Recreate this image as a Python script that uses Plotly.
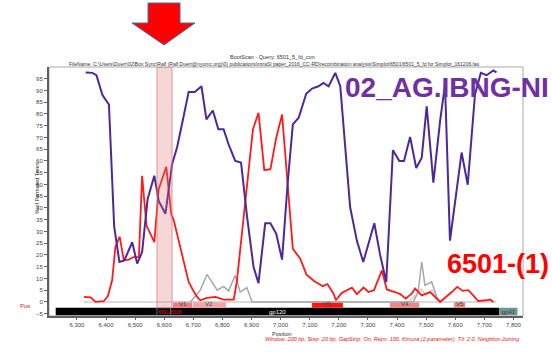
import plotly.graph_objects as go

# ---------------- data ----------------
PURPLE_POS = [6330, 6353, 6367, 6387, 6398, 6410, 6428, 6446, 6463, 6473, 6490, 6507, 6524,
              6543, 6566, 6581, 6604, 6627, 6644, 6661, 6684, 6705, 6728, 6745, 6767, 6786,
              6804, 6821, 6844, 6864, 6885, 6907, 6924, 6947, 6965, 6985, 7005, 7024, 7042,
              7062, 7088, 7108, 7130, 7147, 7165, 7188, 7205, 7239, 7262, 7284, 7302, 7322,
              7342, 7363, 7386, 7408, 7424, 7445, 7466, 7485, 7502, 7525, 7548, 7565, 7582,
              7622, 7643, 7668, 7688, 7708, 7731, 7742]
PURPLE_VAL = [97.7, 97.5, 96.5, 88.3, 86.2, 84.0, 32.0, 17.0, 17.7, 20.5, 25.4, 16.3, 21.2,
              43.8, 53.7, 43.0, 37.5, 58.6, 65.7, 75.6, 89.4, 89.4, 91.8, 77.7, 81.5, 73.5,
              73.5, 67.1, 60.0, 59.3, 36.0, 14.8, 8.0, 33.5, 33.5, 29.0, 18.0, 50.2, 75.6,
              78.4, 88.6, 90.8, 91.8, 93.2, 91.8, 97.5, 91.8, 40.3, 26.1, 17.0, 24.7, 33.5,
              20.0, 8.5, 64.6, 60.0, 60.0, 70.2, 57.0, 61.4, 83.3, 50.8, 77.0, 92.5, 26.1,
              63.6, 49.9, 88.3, 97.5, 96.5, 98.5, 97.7]

RED_POS = [6324, 6347, 6364, 6392, 6406, 6421, 6432, 6447, 6461, 6478, 6495, 6513, 6524,
           6539, 6566, 6581, 6607, 6624, 6633, 6656, 6684, 6701, 6713, 6724, 6747, 6776,
           6804, 6839, 6850, 6905, 6924, 6944, 6965, 6985, 7005, 7042, 7067, 7089, 7116,
           7145, 7161, 7182, 7190, 7210, 7245, 7262, 7285, 7302, 7321, 7348, 7365, 7393,
           7411, 7430, 7451, 7462, 7485, 7514, 7531, 7548, 7588, 7607, 7626, 7645, 7662,
           7679, 7708, 7720, 7731]
RED_VAL = [2.1, 1.9, 0.0, 0.3, 2.4, 9.2, 23.3, 27.8, 17.7, 18.0, 19.1, 19.1, 53.7,
           32.5, 25.4, 48.0, 57.5, 37.5, 34.6, 23.3, 8.5, 4.5, 2.1, 0.7, 1.7, 2.1,
           1.0, 1.0, 9.2, 73.5, 80.5, 56.1, 56.5, 69.9, 79.8, 22.6, 18.5, 11.6, 8.8,
           6.7, 7.6, 3.5, 0.7, 3.8, 6.1, 3.3, 6.1, 4.2, 5.0, 13.4, 5.3, 4.2,
           3.3, 1.4, 3.6, 5.7, 2.8, 4.2, 2.1, 0.0, 4.2, 6.4, 4.7, 5.0, 2.8,
           0.4, 0.7, 1.0, 0.0]

GRAY_POS = [6690, 6724, 6747, 6782, 6804, 6821, 6844, 6861, 6884, 6902, 7456, 7472,
            7485, 7496, 7519, 7537, 7548]
GRAY_VAL = [0.0, 5.0, 11.7, 5.0, 6.6, 4.7, 11.3, 4.2, 6.1, 0.0, 0.0, 4.0,
            17.0, 7.0, 8.5, 2.0, 0.0]

LIGHTGRAY_POS = [7440, 7466, 7482, 7500, 7520, 7540, 7560]
LIGHTGRAY_VAL = [0.0, 3.0, 5.5, 3.0, 5.0, 1.0, 0.0]

BASE_POS = [6324, 7742]
BASE_VAL = [0.0, 0.0]

REGION_NAMES = ["V1", "V2", "V3", "V4", "V5"]
REGION_START = [6630, 6699, 7108, 7376, 7596]
REGION_END = [6696, 6812, 7214, 7476, 7634]

GENE_NAMES = ["gp120", "gp41"]
GENE_START = [6227, 7754]
GENE_END = [7752, 7814]

BREAK_START = 6575
BREAK_END = 6627
BREAK_LABEL = "6591/6628"

X_TICKS = [6300, 6400, 6500, 6600, 6700, 6800, 6900, 7000, 7100, 7200, 7300, 7400, 7500, 7600, 7700, 7800]
Y_TICKS = [-5, 0, 5, 10, 15, 20, 25, 30, 35, 40, 45, 50, 55, 60, 65, 70, 75, 80, 85, 90, 95]

TITLE = "BootScan - Query: 6501_5_fd_con"
FILENAME = ("FileName: C:\\Users\\Duerr\\02\\Box Sync\\Ralf (Ralf.Duerr@nyumc.org)\\0) publications\\intraSI "
            "paper_2016_CC-RD\\recombination analysis\\Simplot\\6501\\6501_5_fd for Simplot_161206.fas")
FOOTER = ("Window: 200 bp, Step: 20 bp, GapStrip: On, Reps: 100, Kimura (2-parameter), "
          "T/t: 2.0, Neighbor-Joining")
LABEL_TOP = "02_AG.IBNG-NI"
LABEL_BOTTOM = "6501-(1)"

# ---------------- styling ----------------
FONT = "Liberation Sans, Arial, sans-serif"
PURPLE = "#4E2898"
RED = "#FF1A1A"
REGION_COLORS = ["#F07C7C", "#F4A2A2", "#FF1414", "#F08585", "#F08585"]

fig = go.Figure()
fig.add_trace(go.Scatter(x=BASE_POS, y=BASE_VAL, mode="lines",
                         line=dict(color="#CFCFCF", width=1.5), hoverinfo="skip"))
fig.add_trace(go.Scatter(x=LIGHTGRAY_POS, y=LIGHTGRAY_VAL, mode="lines",
                         line=dict(color="#D2D2D2", width=1.5), hoverinfo="skip"))
fig.add_trace(go.Scatter(x=GRAY_POS, y=GRAY_VAL, mode="lines",
                         line=dict(color="#A8A8A8", width=1.5), hoverinfo="skip"))
fig.add_trace(go.Scatter(x=RED_POS, y=RED_VAL, mode="lines",
                         line=dict(color=RED, width=1.8), hoverinfo="skip"))
fig.add_trace(go.Scatter(x=PURPLE_POS, y=PURPLE_VAL, mode="lines",
                         line=dict(color=PURPLE, width=2), hoverinfo="skip"))

shapes = []
# plot frame (top/right light border)
shapes.append(dict(type="rect", xref="paper", yref="paper", x0=0, x1=1, y0=0, y1=1,
                   line=dict(color="#A8A8A8", width=1), layer="below"))
# gene bars
for name, s, e in zip(GENE_NAMES, GENE_START, GENE_END):
    col = "#000000" if name == "gp120" else "#5E9C9C"
    shapes.append(dict(type="rect", xref="x", yref="y", x0=s, x1=e, y0=-5.7, y1=-2.5,
                       fillcolor=col, line=dict(width=0), layer="below"))
# variable regions
for i, (s, e) in enumerate(zip(REGION_START, REGION_END)):
    shapes.append(dict(type="rect", xref="x", yref="y", x0=s, x1=e, y0=-2.5, y1=0.3,
                       fillcolor=REGION_COLORS[i], line=dict(width=0), layer="below"))
# breakpoint markers in gene bar
for xv in (BREAK_START, BREAK_END - 5):
    shapes.append(dict(type="line", xref="x", yref="y", x0=xv, x1=xv, y0=-5.7, y1=-2.5,
                       line=dict(color="#2A8080", width=1), layer="above"))
# breakpoint band
shapes.append(dict(type="rect", xref="x", yref="y", x0=BREAK_START, x1=BREAK_END, y0=-2.5, y1=100,
                   fillcolor="rgba(220,110,110,0.28)", line=dict(color="rgba(225,120,120,0.5)", width=1.5),
                   layer="above"))

# red arrow (paper coordinates; plot area = 49..523 x 67..316 px)
def px(xp):
    return (xp - 49) / 474.0

def py(yp):
    return (316 - yp) / 249.0

arrow_pts = [(148, 3), (180, 3), (180, 23), (195, 23), (164, 45), (132, 23), (148, 23)]
path = "M " + " L ".join(f"{px(a):.4f},{py(b):.4f}" for a, b in arrow_pts) + " Z"
shapes.append(dict(type="path", xref="paper", yref="paper", path=path,
                   fillcolor="#FF0000", line=dict(color="#3F6FA8", width=1), layer="above"))

annotations = []
for name, s, e in zip(REGION_NAMES, REGION_START, REGION_END):
    annotations.append(dict(x=(s + e) / 2, y=-1.1, xref="x", yref="y", text=name, showarrow=False,
                            font=dict(family=FONT, size=6, color="#2E4A5A")))
for name, s, e in zip(GENE_NAMES, GENE_START, GENE_END):
    annotations.append(dict(x=(s + e) / 2, y=-4.1, xref="x", yref="y", text=name, showarrow=False,
                            font=dict(family=FONT, size=6,
                                      color="#FFFFFF" if name == "gp120" else "#8B1A1A")))
annotations.append(dict(x=(BREAK_START + BREAK_END) / 2 + 20, y=-4.1, xref="x", yref="y",
                        text=BREAK_LABEL, showarrow=False,
                        font=dict(family=FONT, size=5, color="#E02020")))

annotations += [
    dict(x=px(272), y=py(51.7), xref="paper", yref="paper", text=TITLE, showarrow=False,
         font=dict(family=FONT, size=5.5, color="#333333")),
    dict(x=px(274), y=py(58.5), xref="paper", yref="paper", text=FILENAME, showarrow=False,
         font=dict(family=FONT, size=5, color="#333333")),
    dict(x=px(32), y=py(188), xref="paper", yref="paper", text="% of Permuted Trees", showarrow=False,
         textangle=-90, font=dict(family=FONT, size=5.5, color="#333333")),
    dict(x=px(18), y=py(310.5), xref="paper", yref="paper", text="Pos", showarrow=False,
         font=dict(family=FONT, size=6, color="#E02020")),
    dict(x=px(282), y=py(334), xref="paper", yref="paper", text="Position", showarrow=False,
         yanchor="middle", font=dict(family=FONT, size=5.5, color="#333333")),
    dict(x=px(522), y=py(344), xref="paper", yref="paper", text="<i>" + FOOTER + "</i>", showarrow=False,
         xanchor="right", font=dict(family=FONT, size=5.5, color="#E02020")),
    dict(x=px(551), y=py(87.5), xref="paper", yref="paper", text="<b>" + LABEL_TOP + "</b>",
         showarrow=False, xanchor="right", yanchor="middle",
         font=dict(family=FONT, size=28, color="#7030A0")),
    dict(x=px(551), y=py(264), xref="paper", yref="paper", text="<b>" + LABEL_BOTTOM + "</b>",
         showarrow=False, xanchor="right", yanchor="middle",
         font=dict(family=FONT, size=27, color="#FF0000")),
]

fig.update_layout(
    width=552, height=352,
    margin=dict(l=49, r=29, t=67, b=36),
    paper_bgcolor="white", plot_bgcolor="white",
    showlegend=False,
    shapes=shapes,
    annotations=annotations,
    xaxis=dict(range=[6204, 7833], tickvals=X_TICKS, tickformat=",d", showgrid=False, zeroline=False,
               showline=True, linecolor="#606060", linewidth=2, ticks="outside", ticklen=2,
               tickcolor="#606060", tickfont=dict(family=FONT, size=6, color="#444444")),
    yaxis=dict(range=[-6, 100], tickvals=Y_TICKS, showgrid=False, zeroline=False,
               showline=True, linecolor="#606060", linewidth=2, ticks="outside", ticklen=3,
               tickcolor="#606060", tickfont=dict(family=FONT, size=6, color="#444444")),
    hovermode=False,
)

fig.write_html("out.html", config={"displayModeBar": False})
